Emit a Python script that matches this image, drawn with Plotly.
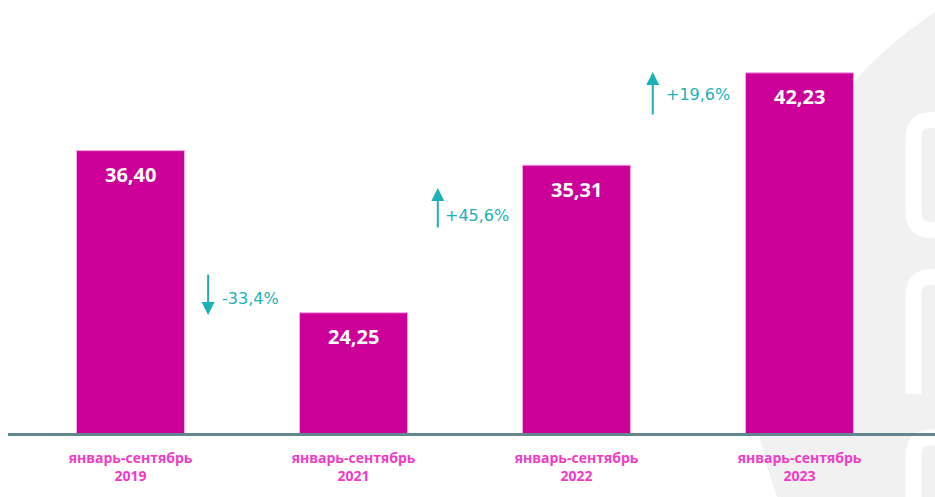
import plotly.graph_objects as go

# ---- data ----
periods = ["январь-сентябрь", "январь-сентябрь", "январь-сентябрь", "январь-сентябрь"]
years = ["2019", "2021", "2022", "2023"]
values = [36.40, 24.25, 35.31, 42.23]
value_labels = ["36,40", "24,25", "35,31", "42,23"]
changes = ["-33,4%", "+45,6%", "+19,6%"]
directions = ["down", "up", "up"]

# ---- styles / layout helpers ----
BAR = "#cc0099"
TEAL = "#1cb1b6"
PINK = "#ee3cc7"
GRAY = "#f1f1f1"

W, H = 935, 497
ML, MR, MT, MB = 8, 0, 10, 64
PW, PH = W - ML - MR, H - MT - MB

def px(x):
    return (x - ML) / PW

def py(y):
    return (H - MB - y) / PH

x = list(range(len(values)))
ticktext = [f"{p}<br>{y}" for p, y in zip(periods, years)]

fig = go.Figure()
fig.add_trace(go.Bar(
    x=x, y=values, width=0.484,
    marker=dict(color=BAR, line=dict(color="#f4a8e4", width=1)),
    hoverinfo="skip",
))

annotations = []
for xi, v, lab in zip(x, values, value_labels):
    annotations.append(dict(
        x=xi, y=v, xref="x", yref="y", text=lab, showarrow=False,
        yshift=-24, font=dict(family="Open Sans", size=20, color="white", weight="bold"),
    ))

# arrow annotation placement (layout only)
arrow_x = [0.348, 1.378, 2.342]
arrow_tip = [24.08, 33.60, 42.29]
arrow_len = [-42, 41, 44]
text_dx = [12, 5, 11]
text_dy = [17, -27.5, -22]
for ax_, tip, L, dx, dy, txt in zip(arrow_x, arrow_tip, arrow_len, text_dx, text_dy, changes):
    annotations.append(dict(
        x=ax_, y=tip, xref="x", yref="y", text="", showarrow=True,
        ax=0, ay=L, arrowhead=2, arrowsize=1.3, arrowwidth=2, arrowcolor=TEAL,
    ))
    annotations.append(dict(
        x=ax_, y=tip, xref="x", yref="y", text=txt, showarrow=False,
        xanchor="left", xshift=dx, yshift=dy,
        font=dict(family="DejaVu Sans", size=16, color=TEAL),
    ))

shapes = [
    dict(type="circle", xref="paper", yref="paper", layer="below",
         x0=px(1159 - 408), x1=px(1159 + 408), y0=py(353 + 408), y1=py(353 - 408),
         fillcolor=GRAY, line=dict(width=0)),
]

def path(pts):
    s = ""
    for cmd, coords in pts:
        s += cmd + " ".join(f"{px(a):.5f},{py(b):.5f}" for a, b in coords) + " "
    return s.strip()

logo_paths = [
    [("M", [(960, 120)]), ("L", [(931.5, 120)]), ("Q", [(913.5, 120), (913.5, 138)]),
     ("L", [(913.5, 212)]), ("Q", [(913.5, 230), (931.5, 230)]), ("L", [(960, 230)])],
    [("M", [(960, 277)]), ("L", [(931.5, 277)]), ("Q", [(913.5, 277), (913.5, 295)]),
     ("L", [(913.5, 394)])],
    [("M", [(960, 437.5)]), ("L", [(931.5, 437.5)]), ("Q", [(913.5, 437.5), (913.5, 455.5)]),
     ("L", [(913.5, 510)])],
]
for p in logo_paths:
    shapes.append(dict(type="path", xref="paper", yref="paper", layer="below",
                       path=path(p), line=dict(color="white", width=16)))

fig.update_layout(
    width=W, height=H,
    margin=dict(l=ML, r=MR, t=MT, b=MB),
    paper_bgcolor="white", plot_bgcolor="rgba(0,0,0,0)",
    showlegend=False,
    annotations=annotations,
    shapes=shapes,
    xaxis=dict(
        range=[-122.5 / 223, (PW - 122.5) / 223],
        tickmode="array", tickvals=x, ticktext=ticktext,
        tickfont=dict(family="Open Sans", size=14, color=PINK, weight="bold"),
        showline=True, linecolor="#62878e", linewidth=3,
        showgrid=False, zeroline=False, ticks="", ticklabelstandoff=10,
    ),
    yaxis=dict(
        range=[15.24, 15.24 + PH / 13.345],
        visible=False, showgrid=False, zeroline=False,
    ),
)

fig.write_html("out.html")
